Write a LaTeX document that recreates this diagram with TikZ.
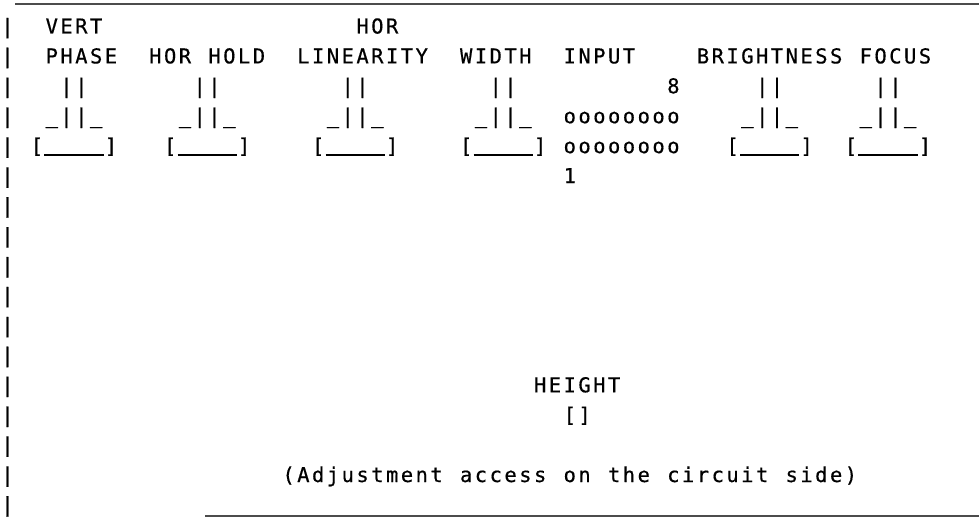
\documentclass[tikz,border=0pt]{standalone}
\usepackage{fontspec}
\newfontfamily\prfont[FakeBold=0.5]{DejaVu Sans Mono}
% one fixed-width cell per character
\def\ms#1{\msi#1\relax}
\def\msi#1{\ifx#1\relax\else\hbox to 14.8pt{\hss#1\hss}\expandafter\msi\fi}
\def\us{\rule[-2.6pt]{14.8pt}{1.6pt}}
\newcommand\ry[1]{(33.5+(#1)*29.9)}
\begin{document}
\begin{tikzpicture}[x=1pt,y=-1pt,
  txt/.style={anchor=base west, inner sep=0pt, outer sep=0pt,
    font=\prfont\fontsize{20.5}{24}\selectfont, text=black},
  rule/.style={line width=1.4pt, draw=black!70}]
\useasboundingbox (0,0) rectangle (979,519);
% frame lines
\coordinate (tl) at (15,4);
\coordinate (tr) at (979,4);
\coordinate (bl) at (205,516);
\coordinate (br) at (979,516);
\draw[rule] (tl) -- (tr);
\draw[rule] (bl) -- (br);
% left margin bars
\foreach \k in {0,...,16}
  \node[txt] (bar\k) at (0,{\ry{\k}}) {\ms{|}};
% labels
\node[txt] (vert)   at ({3*14.8},{\ry{0}})  {\ms{VERT}};
\node[txt] (hor)    at ({24*14.8},{\ry{0}}) {\ms{HOR}};
\node[txt] (phase)  at ({3*14.8},{\ry{1}})  {\ms{PHASE}};
\node[txt] (hold)   at ({10*14.8},{\ry{1}}) {\ms{HOR~HOLD}};
\node[txt] (lin)    at ({20*14.8},{\ry{1}}) {\ms{LINEARITY}};
\node[txt] (width)  at ({31*14.8},{\ry{1}}) {\ms{WIDTH}};
\node[txt] (input)  at ({38*14.8},{\ry{1}}) {\ms{INPUT}};
\node[txt] (bright) at ({47*14.8},{\ry{1}}) {\ms{BRIGHTNESS}};
\node[txt] (focus)  at ({58*14.8},{\ry{1}}) {\ms{FOCUS}};
% potentiometers
\foreach \n/\c in {a/3,b/12,c/22,d/32,e/50,f/58}{
  \node[txt] (sh\n) at ({(\c+1)*14.8},{\ry{2}}) {\ms{||}};
  \node[txt] (kn\n) at ({\c*14.8},{\ry{3}}) {\ms{\_||\_}};
  \node[txt] (bs\n) at ({(\c-1)*14.8},{\ry{4}}) {\ms{[\us\us\us\us]}};
}
% input connector
\node[txt] (eight) at ({45*14.8},{\ry{2}}) {\ms{8}};
\node[txt] (pinsA) at ({38*14.8},{\ry{3}}) {\ms{oooooooo}};
\node[txt] (pinsB) at ({38*14.8},{\ry{4}}) {\ms{oooooooo}};
\node[txt] (one)   at ({38*14.8},{\ry{5}}) {\ms{1}};
% height
\node[txt] (height) at ({36*14.8},{\ry{12}}) {\ms{HEIGHT}};
\node[txt] (hadj)   at ({38*14.8},{\ry{13}}) {\ms{[]}};
\node[txt] (note)   at ({19*14.8},{\ry{15}}) {\ms{(Adjustment~access~on~the~circuit~side)}};
\end{tikzpicture}
\end{document}
